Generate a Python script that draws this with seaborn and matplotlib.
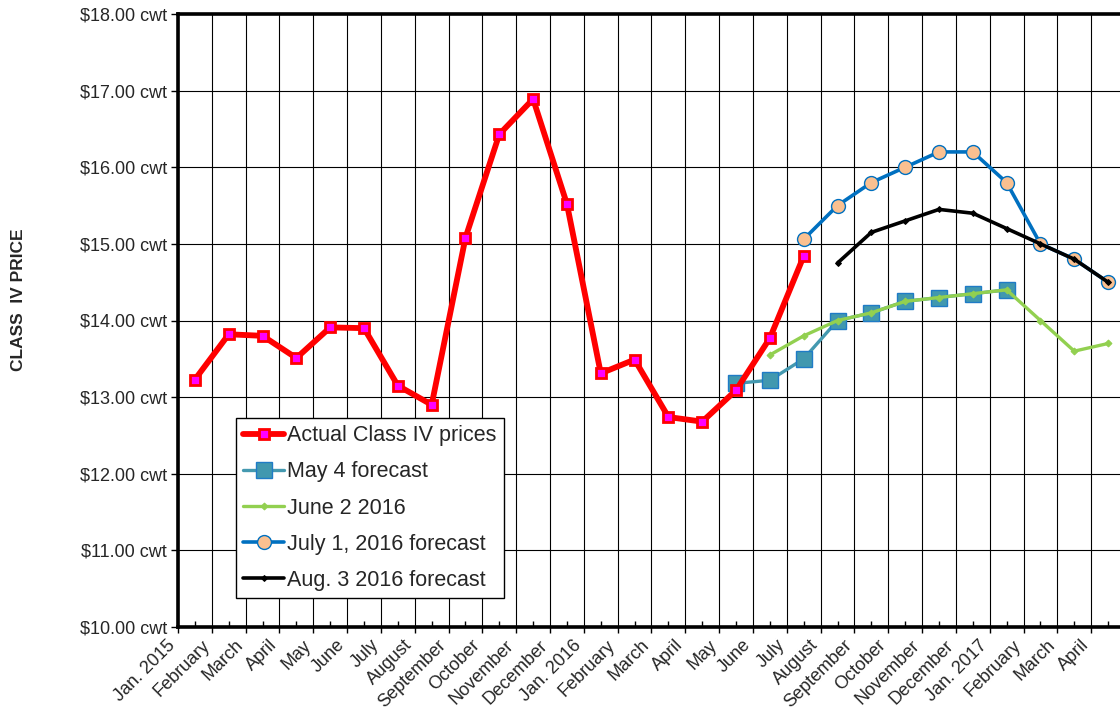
import numpy as np
import pandas as pd
import matplotlib
matplotlib.use("Agg")
import matplotlib.pyplot as plt
from matplotlib.ticker import FixedLocator, FuncFormatter
from matplotlib.transforms import ScaledTranslation
import seaborn as sns

nan = np.nan

months = ["Jan. 2015", "February", "March", "April", "May", "June", "July",
          "August", "September", "October", "November", "December",
          "Jan. 2016", "February", "March", "April", "May", "June", "July",
          "August", "September", "October", "November", "December",
          "Jan. 2017", "February", "March", "April"]

actual = [13.23, 13.82, 13.80, 13.51, 13.91, 13.90, 13.15, 12.90, 15.08,
          16.43, 16.89, 15.52, 13.31, 13.49, 12.74, 12.68, 13.09, 13.77,
          14.84] + [nan] * 9

may4 = [nan] * 16 + [13.18, 13.22, 13.50, 14.00, 14.10, 14.25, 14.30,
                     14.35, 14.40, nan, nan, nan]

june2 = [nan] * 17 + [13.55, 13.80, 14.00, 14.10, 14.25, 14.30, 14.35,
                      14.40, 14.00, 13.60, 13.70]

july1 = [nan] * 18 + [15.06, 15.50, 15.80, 16.00, 16.20, 16.20, 15.80,
                      15.00, 14.80, 14.50]

aug3 = [nan] * 19 + [14.75, 15.15, 15.30, 15.45, 15.40, 15.20, 15.00,
                     14.80, 14.50]

df = pd.DataFrame({"pos": np.arange(len(months)), "actual": actual,
                   "may4": may4, "june2": june2, "july1": july1, "aug3": aug3})

sns.set_style("white")
plt.rcParams["font.family"] = ["Liberation Sans", "DejaVu Sans"]

fig = plt.figure(figsize=(11.2, 7.15), dpi=100)
ax = fig.add_axes([178 / 1120, 1 - 627 / 715, (1125 - 178) / 1120, (627 - 14) / 715])

sns.lineplot(data=df, x="pos", y="actual", ax=ax, color="#ff0000", lw=4.2,
             marker="s", markersize=6.5, markerfacecolor="#ff00ff",
             markeredgecolor="#ff0000", markeredgewidth=2,
             label="Actual Class IV prices", zorder=5)
sns.lineplot(data=df, x="pos", y="may4", ax=ax, color="#4499b0", lw=2.4,
             marker="s", markersize=11, markerfacecolor="#4198af",
             markeredgecolor="#1f7bc6", markeredgewidth=1,
             label="May 4 forecast", zorder=4)
sns.lineplot(data=df, x="pos", y="june2", ax=ax, color="#92d050", lw=2.4,
             marker="D", markersize=3.5, markerfacecolor="#92d050",
             markeredgecolor="#92d050",
             label="June 2 2016", zorder=6)
sns.lineplot(data=df, x="pos", y="july1", ax=ax, color="#0070c0", lw=2.6,
             marker="o", markersize=10, markerfacecolor="#fac090",
             markeredgecolor="#0070c0", markeredgewidth=1,
             label="July 1, 2016 forecast", zorder=4)
sns.lineplot(data=df, x="pos", y="aug3", ax=ax, color="black", lw=2.6,
             marker="D", markersize=3, markerfacecolor="black",
             markeredgecolor="black",
             label="Aug. 3 2016 forecast", zorder=7)

n = len(months)
ax.set_xlim(-0.5, n - 0.5)
ax.set_ylim(10, 18)

# gridlines at month boundaries, labels at month centers
ax.xaxis.set_major_locator(FixedLocator(np.arange(n + 1) - 0.5))
ax.xaxis.set_minor_locator(FixedLocator(np.arange(n)))
ax.set_xticklabels([], minor=False)
ax.set_xticklabels(months, minor=True, rotation=45, ha="right",
                   rotation_mode="anchor", fontsize=13)
ax.tick_params(axis="x", which="major", direction="out", length=4, width=1,
               color="black", bottom=True)
ax.tick_params(axis="x", which="minor", direction="in", length=4, width=1,
               color="black", bottom=True, pad=7)
for lab in ax.get_xticklabels(minor=True):
    lab.set_transform(lab.get_transform() + ScaledTranslation(-20 / 72, 0, fig.dpi_scale_trans))

ax.set_yticks(np.arange(10, 19, 1))
ax.yaxis.set_major_formatter(FuncFormatter(lambda v, p: f"${v:.2f} cwt"))
ax.tick_params(axis="y", direction="out", length=5, width=1, color="black",
               left=True, labelsize=13, pad=3)

ax.grid(True, which="major", color="black", lw=0.8)
ax.set_axisbelow(True)

for side in ["left", "bottom", "top", "right"]:
    ax.spines[side].set_color("black")
    ax.spines[side].set_linewidth(2.6)

ax.set_xlabel("")
ax.set_ylabel("")
fig.text(19 / 1120, 1 - 300 / 715, "CLASS  IV PRICE", rotation=90,
         ha="center", va="center", fontsize=12.5, fontweight="bold")

leg = ax.legend(loc="lower left", bbox_to_anchor=(0.061, 0.047),
                borderaxespad=0, fontsize=15.5, frameon=True, fancybox=False,
                edgecolor="black", framealpha=1, handlelength=1.9,
                handletextpad=0.15, labelspacing=0.7, borderpad=0.35)
leg.get_frame().set_linewidth(1)

fig.savefig("out.png", dpi=100)
